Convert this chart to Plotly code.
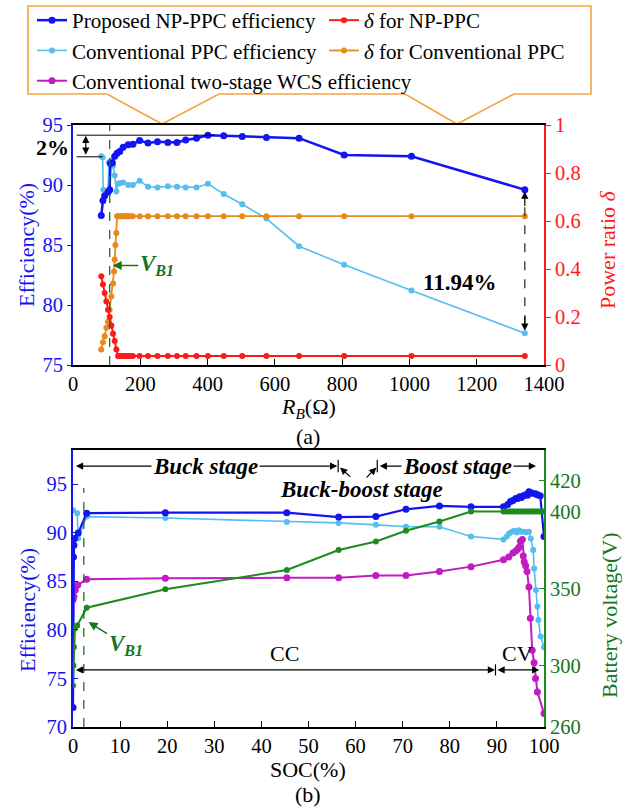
import plotly.graph_objects as go

FONT = "Liberation Serif"
BLUE = "#1414F0"
CYAN = "#55BEEF"
RED = "#FF1A1A"
ORANGE = "#E8891C"
MAGENTA = "#C21BC2"
GREEN = "#1F8A1F"
DKGREEN = "#17751A"
BOX = "#F4A442"

# ---------------- Panel (a) data ----------------
ra_np = [84, 89, 94, 104, 109, 111, 117, 124, 131, 139, 149, 164, 178, 198, 223, 251, 282, 309,
         335, 367, 401, 448, 503, 575, 672, 806, 1006, 1343]
eff_np = [87.45, 88.7, 89.1, 89.4, 89.6, 91.8, 91.85, 92.4, 92.65, 92.8, 93.15, 93.35, 93.4, 93.7,
          93.5, 93.6, 93.55, 93.55, 93.75, 93.9, 94.15, 94.1, 94.05, 93.95, 93.9, 92.5, 92.4, 89.6]

ra_conv = [84, 88, 90, 104, 107, 113, 119, 124, 129, 134, 139, 149, 164, 178, 198, 223, 251, 282,
           309, 335, 367, 401, 448, 503, 575, 672, 806, 1006, 1343]
eff_conv = [92.4, 92.3, 89.6, 89.45, 91.9, 92.05, 91.6, 90.8, 89.45, 90.1, 90.15, 90.2, 90.0, 90.0,
            90.35, 89.85, 89.8, 89.9, 89.85, 89.8, 89.8, 90.1, 89.25, 88.4, 87.2, 84.9, 83.35, 81.2, 77.65]

ra_delta_np = [84, 89, 94, 99, 104, 109, 114, 119, 124, 129, 134, 139, 144, 149, 154, 159, 164, 170,
               178, 198, 223, 251, 282, 309, 335, 367, 401, 448, 503, 575, 672, 806, 1006, 1343]
delta_np = [0.37, 0.335, 0.3, 0.265, 0.23, 0.2, 0.165, 0.13, 0.1, 0.065, 0.037, 0.037, 0.037, 0.037,
            0.037, 0.037, 0.037, 0.037, 0.037, 0.037, 0.037, 0.037, 0.037, 0.037, 0.037, 0.037,
            0.037, 0.037, 0.037, 0.037, 0.037, 0.037, 0.037, 0.037]

ra_delta_conv = [84, 89, 94, 99, 104, 109, 114, 119, 122, 124, 126, 129, 131, 135, 140, 145, 150, 155,
                 160, 165, 170, 178, 198, 223, 251, 282, 309, 335, 367, 401, 448, 503, 575, 672, 806,
                 1006, 1343]
delta_conv = [0.065, 0.095, 0.12, 0.155, 0.18, 0.23, 0.285, 0.34, 0.39, 0.44, 0.5, 0.55, 0.62, 0.62,
              0.62, 0.62, 0.62, 0.62, 0.62, 0.62, 0.62, 0.62, 0.62, 0.62, 0.62, 0.62, 0.62, 0.62,
              0.62, 0.62, 0.62, 0.62, 0.62, 0.62, 0.62, 0.62, 0.62]

ra_ticks = [0, 200, 400, 600, 800, 1000, 1200, 1400]
eff_a_ticks = [75, 80, 85, 90, 95]
delta_ticks = [0, 0.2, 0.4, 0.6, 0.8, 1]

# ---------------- Panel (b) data ----------------
soc_np = [0.0, 0.1, 0.2, 0.35, 1.1, 2.9, 19.6, 45.4, 56.4, 64.3, 70.7, 77.8, 84.5, 91.4, 92.3, 92.9,
          93.4, 94.0, 94.4, 94.8, 95.2, 95.6, 96.1, 96.5, 96.8, 97.2, 97.5, 98.2, 98.6, 99.2, 100]
effb_np = [72.0, 87.5, 88.7, 89.4, 89.95, 92.0, 92.05, 92.05, 91.6, 91.65, 92.4, 92.75, 92.65, 92.65,
           92.9, 93.2, 93.3, 93.5, 93.5, 93.7, 93.6, 93.8, 93.9, 93.85, 94.2, 94.1, 94.05, 94.0,
           93.9, 93.8, 89.6]

soc_conv = [0.0, 0.9, 1.1, 2.9, 19.6, 45.4, 56.4, 64.3, 70.7, 77.8, 84.5, 91.4, 92.1, 92.6, 93.2,
            93.7, 94.2, 94.7, 95.2, 95.7, 96.2, 96.8, 97.2, 97.7, 97.9, 98.3, 98.6, 98.8, 99.3, 100]
effb_conv = [92.3, 92.0, 89.4, 91.65, 91.5, 91.1, 91.0, 90.8, 90.6, 90.6, 89.6, 89.3, 89.6, 89.9,
             90.1, 90.2, 90.0, 90.25, 90.1, 90.1, 90.05, 90.1, 89.4, 88.2, 86.3, 84.1, 82.4, 81.0,
             79.3, 78.2]

soc_two = [0.0, 0.2, 0.5, 1.0, 2.9, 19.6, 45.4, 56.4, 64.3, 70.7, 77.8, 84.5, 91.4, 92.5, 93.4, 94.0,
           94.4, 94.7, 95.0, 95.4, 95.6, 95.8, 96.1, 96.4, 96.8, 97.1, 97.5, 97.9, 98.2, 98.6, 100]
effb_two = [83.1, 83.4, 84.1, 84.6, 85.2, 85.3, 85.35, 85.35, 85.6, 85.6, 86.0, 86.5, 87.2, 87.5,
            87.9, 88.1, 88.3, 88.5, 89.1, 89.3, 87.6, 87.0, 86.6, 86.0, 84.4, 81.2, 77.9, 76.6,
            75.0, 73.6, 71.4]

soc_v = [0.0, 0.1, 0.2, 0.4, 0.9, 2.9, 19.6, 45.4, 56.4, 64.3, 70.7, 77.8, 84.5, 91.4, 92.0, 92.5,
         93.0, 93.5, 94.0, 94.5, 95.0, 95.5, 96.0, 96.5, 97.0, 97.5, 98.0, 98.5, 99.0, 99.5, 100]
vbat = [287, 300, 312, 324, 326, 337.5, 349.5, 362, 375, 380.5, 387.5, 393.5, 400, 400, 400, 400,
        400, 400, 400, 400, 400, 400, 400, 400, 400, 400, 400, 400, 400, 400, 400]

soc_ticks = [0, 10, 20, 30, 40, 50, 60, 70, 80, 90, 100]
eff_b_ticks = [70, 75, 80, 85, 90, 95]
v_ticks = [260, 300, 350, 400, 420]

W, H = 632, 808


def px(x):
    return x / W


def py(y):
    return 1 - y / H


fig = go.Figure()


def tr(x, y, name, color, lw, ms, xa, ya, show, rank=None):
    fig.add_trace(go.Scatter(
        x=x, y=y, name=name, mode="lines+markers",
        line=dict(color=color, width=lw), marker=dict(color=color, size=ms),
        xaxis=xa, yaxis=ya, showlegend=show, legendrank=rank if rank else 1000,
        hoverinfo="skip"))


tr(ra_delta_conv, delta_conv, "<i>δ</i> for Conventional PPC", ORANGE, 1.8, 6, "x", "y2", True, 4)
tr(ra_delta_np, delta_np, "<i>δ</i> for NP-PPC", RED, 2, 6, "x", "y2", True, 2)
tr(ra_conv, eff_conv, "Conventional PPC efficiency", CYAN, 1.6, 6, "x", "y", True, 3)
tr(ra_np, eff_np, "Proposed NP-PPC efficiency", BLUE, 2.5, 7, "x", "y", True, 1)

tr(soc_v, vbat, "Battery voltage", GREEN, 2, 6, "x2", "y4", False)
tr(soc_two, effb_two, "Conventional two-stage WCS efficiency", MAGENTA, 2, 7, "x2", "y3", True, 5)
tr(soc_conv, effb_conv, "Conventional PPC efficiency", CYAN, 1.6, 6, "x2", "y3", False)
tr(soc_np, effb_np, "Proposed NP-PPC efficiency", BLUE, 2.2, 7, "x2", "y3", False)

xdom = [px(73), px(544)]
ya_dom = [py(365), py(125)]
yb_dom = [py(727), py(450)]


def tickf(c):
    return dict(family=FONT, size=20.5, color=c)


common_x = dict(showgrid=False, zeroline=False, showline=True, linecolor="black", linewidth=1.5,
                mirror=True, ticks="inside", ticklen=6, tickcolor="black", tickwidth=1.2,
                tickfont=tickf("black"), automargin=False)

fig.update_layout(
    width=W, height=H, autosize=False,
    margin=dict(l=0, r=0, t=0, b=0, pad=0, autoexpand=False),
    paper_bgcolor="white", plot_bgcolor="white",
    font=dict(family=FONT, size=20, color="black"),
    xaxis=dict(domain=xdom, anchor="y", range=[0, 1400], tickvals=ra_ticks, **common_x),
    yaxis=dict(domain=ya_dom, anchor="x", range=[75, 95], tickvals=eff_a_ticks, automargin=False,
               showgrid=False, zeroline=False, showline=True, linecolor=BLUE, linewidth=2,
               ticks="outside", ticklen=4, tickcolor=BLUE, tickfont=tickf(BLUE)),
    yaxis2=dict(overlaying="y", anchor="x", side="right", range=[0, 1], tickvals=delta_ticks,
                automargin=False,
                showgrid=False, zeroline=False, showline=True, linecolor=RED, linewidth=2,
                ticks="outside", ticklen=5, tickcolor=RED, tickfont=tickf(RED)),
    xaxis2=dict(domain=xdom, anchor="y3", range=[0, 100], tickvals=soc_ticks, **common_x),
    yaxis3=dict(domain=yb_dom, anchor="x2", range=[70, 98.5], tickvals=eff_b_ticks, automargin=False,
                showgrid=False, zeroline=False, showline=True, linecolor=BLUE, linewidth=2,
                ticks="inside", ticklen=5, tickcolor=BLUE, tickfont=tickf(BLUE)),
    yaxis4=dict(overlaying="y3", anchor="x2", side="right", range=[260, 440], tickvals=v_ticks,
                automargin=False,
                showgrid=False, zeroline=False, showline=True, linecolor=GREEN, linewidth=2,
                ticks="inside", ticklen=5, tickcolor=GREEN, tickfont=tickf(DKGREEN)),
    legend=dict(orientation="h", x=px(32), y=py(0), xanchor="left", yanchor="top",
                bgcolor="rgba(0,0,0,0)", borderwidth=0, font=dict(family=FONT, size=21, color="black"),
                entrywidth=247, entrywidthmode="pixels", itemwidth=30, tracegroupgap=0,
                traceorder="normal"),
)

shapes = []
# legend speech-bubble frame
pts = [(107, 94), (28, 94), (28, 6), (591, 6), (591, 94), (514, 94), (457, 124), (405, 94),
       (219, 94), (162, 124), (107, 94)]
path = "M " + " L ".join(f"{px(a):.5f},{py(b):.5f}" for a, b in pts) + " Z"
shapes.append(dict(type="path", path=path, xref="paper", yref="paper",
                   line=dict(color=BOX, width=1.6), fillcolor="white", layer="below"))
# V_B1 dashed lines
shapes.append(dict(type="line", xref="x", yref="y", x0=109, x1=109, y0=75, y1=95,
                   line=dict(color=DKGREEN, width=1.3, dash="dash")))
shapes.append(dict(type="line", xref="x2", yref="y3", x0=2.3, x1=2.3, y0=70, y1=94.6,
                   line=dict(color=DKGREEN, width=1.3, dash="dash")))
# 2% guide lines
shapes.append(dict(type="line", xref="x", yref="y", x0=11, x1=421, y0=94.15, y1=94.15,
                   line=dict(color="black", width=1)))
shapes.append(dict(type="line", xref="x", yref="y", x0=11, x1=88, y0=92.35, y1=92.35,
                   line=dict(color="black", width=1)))
# 11.94% dashed arrow shaft
shapes.append(dict(type="line", xref="x", yref="y", x0=1343, x1=1343, y0=78.4, y1=88.9,
                   line=dict(color="#333333", width=1.3, dash="dash")))
# stage separators
for xv in (56.3, 64.6):
    shapes.append(dict(type="line", xref="x2", yref="y3", x0=xv, x1=xv, y0=96.2, y1=97.5,
                       line=dict(color="black", width=1.2)))
shapes.append(dict(type="line", xref="x2", yref="y3", x0=89.7, x1=89.7, y0=75.3, y1=76.45,
                   line=dict(color="black", width=1.2)))
fig.update_layout(shapes=shapes)

ann = []


def arrow(x, y, ax, ay, xref, yref, color="black", both=False, w=1.2):
    d = dict(x=x, y=y, ax=ax, ay=ay, xref=xref, yref=yref, axref=xref, ayref=yref, text="",
             showarrow=True, arrowhead=2, arrowsize=1.2, arrowwidth=w, arrowcolor=color)
    if both:
        d.update(arrowside="end+start", startarrowhead=2, startarrowsize=1.2)
    ann.append(d)


def text(x, y, t, xref, yref, size=22, color="black", bg=None, angle=0):
    d = dict(x=x, y=y, xref=xref, yref=yref, text=t, showarrow=False,
             xanchor="center", yanchor="middle",
             font=dict(family=FONT, size=size, color=color), textangle=angle)
    if bg:
        d.update(bgcolor=bg, borderpad=1)
    ann.append(d)


# panel (a) annotations
arrow(38, 94.1, 38, 92.4, "x", "y", both=True)
text(px(52), py(148), "<b>2%</b>", "paper", "paper", size=22)
ann.append(dict(x=1343, y=89.45, xref="x", yref="y", ax=0, ay=16, text="", showarrow=True,
                arrowhead=2, arrowsize=1.2, arrowwidth=1.2, arrowcolor="black"))
ann.append(dict(x=1343, y=77.85, xref="x", yref="y", ax=0, ay=-16, text="", showarrow=True,
                arrowhead=2, arrowsize=1.2, arrowwidth=1.2, arrowcolor="black"))
text(1150, 81.9, "<b>11.94%</b>", "x", "y", size=23)
ann.append(dict(x=118, y=83.3, xref="x", yref="y", ax=44, ay=0,
                text="<b><i>V</i><sub><i>B1</i></sub></b>", showarrow=True, arrowhead=2,
                arrowsize=1.2, arrowwidth=1.5, arrowcolor=DKGREEN,
                font=dict(family=FONT, size=23, color=DKGREEN)))
text(px(27), py(245), "Efficiency(%)", "paper", "paper", size=22, color=BLUE, angle=-90)
text(px(607), py(250), "Power ratio <i>δ</i>", "paper", "paper", size=22, color=RED, angle=-90)
text(px(308), py(408), "<i>R</i><sub><i>B</i></sub>(Ω)", "paper", "paper", size=22)
text(px(308), py(436), "(a)", "paper", "paper", size=22)

# panel (b) annotations
arrow(56.1, 96.85, 0.3, 96.85, "x2", "y3", both=True)
text(28.1, 96.85, "<b><i>Buck stage</i></b>", "x2", "y3", size=23, bg="white")
arrow(98.3, 96.85, 64.8, 96.85, "x2", "y3", both=True)
text(81.6, 96.85, "<b><i>Boost stage</i></b>", "x2", "y3", size=23, bg="white")
text(61.3, 94.4, "<b><i>Buck-boost stage</i></b>", "x2", "y3", size=23)
arrow(56.7, 96.7, 59.2, 95.6, "x2", "y3")
arrow(64.4, 96.7, 62.0, 95.5, "x2", "y3")
arrow(89.6, 75.87, 0.3, 75.87, "x2", "y3", both=True)
arrow(99.0, 75.87, 89.8, 75.87, "x2", "y3", both=True)
text(44.9, 77.6, "CC", "x2", "y3", size=22)
text(94.4, 77.6, "CV", "x2", "y3", size=22)
ann.append(dict(x=3.3, y=80.8, xref="x2", yref="y3", ax=37, ay=23,
                text="<b><i>V</i><sub><i>B1</i></sub></b>", showarrow=True, arrowhead=2,
                arrowsize=1.2, arrowwidth=1.5, arrowcolor=DKGREEN,
                font=dict(family=FONT, size=23, color=DKGREEN)))
text(px(27), py(610), "Efficiency(%)", "paper", "paper", size=22, color=BLUE, angle=-90)
text(px(609), py(615), "Battery voltage(V)", "paper", "paper", size=22, color=DKGREEN, angle=-90)
text(px(308), py(769), "SOC(%)", "paper", "paper", size=22)
text(px(308), py(794), "(b)", "paper", "paper", size=22)

fig.update_layout(annotations=ann)
fig.write_html("out.html", config={"displayModeBar": False},
               post_script="document.body.style.margin='0';")
